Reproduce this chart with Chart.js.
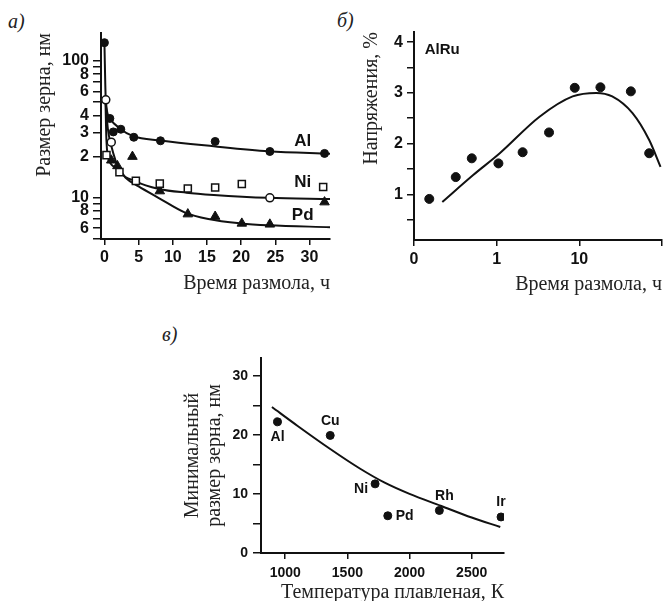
<!DOCTYPE html>
<html>
<head>
<meta charset="utf-8">
<script src="https://cdn.jsdelivr.net/npm/chart.js@4.4.1/dist/chart.umd.min.js"></script>
<style>
  html, body { margin: 0; padding: 0; background: #fff; overflow: hidden; width: 663px; height: 601px; }
  body { position: relative; }
  canvas { position: absolute; }
  .panel { position: absolute; font: italic 20px "Liberation Serif", "Times New Roman", serif; color: #222; }
</style>
</head>
<body>
<div class="panel" style="left:8px;top:10px">а)</div>
<div class="panel" style="left:337px;top:9px">б)</div>
<div class="panel" style="left:162px;top:323px">в)</div>
<canvas id="chartA" width="340" height="300" style="left:0;top:0"></canvas>
<canvas id="chartB" width="340" height="300" style="left:340px;top:0"></canvas>
<canvas id="chartC" width="370" height="295" style="left:150px;top:310px"></canvas>
<script>
// а) grain size (nm) vs milling time (h), log y
const alTime = [0, 0.8, 1.3, 2.4, 4.3, 8.2, 16.2, 24.2, 32.2];
const alSize = [136, 38, 30.3, 31.7, 27.7, 26.1, 25.8, 21.8, 21.1];
const niTime = [0.2, 1.0, 0.3, 2.2, 4.6, 8.1, 12.2, 16.2, 20.1, 24.2, 32.0];
const niSize = [52, 25.5, 20.5, 15.4, 13.3, 12.7, 11.7, 11.9, 12.6, 10.0, 12.0];
const pdTime = [1.0, 1.9, 4.1, 8.1, 12.2, 16.2, 20.1, 24.2, 32.2];
const pdSize = [18.8, 17.1, 20.0, 11.2, 7.6, 7.3, 6.5, 6.4, 9.3];

// fitted curves
const alFitTime = [0, 0.2, 0.8, 2.3, 4.2, 8.2, 16, 24, 33];
const alFitSize = [136, 52, 38, 32, 28.2, 26.2, 23.8, 21.9, 21.0];
const niFitTime = [0.15, 0.5, 1.0, 2.2, 4.6, 8, 12, 16, 24, 33];
const niFitSize = [52, 32, 24, 16, 13.2, 11.6, 10.9, 10.5, 10.0, 9.8];
const pdFitTime = [0.15, 0.3, 0.7, 2.1, 3.1, 5, 7.9, 11.8, 15.2, 20, 24, 33];
const pdFitSize = [52, 26, 18.6, 16.3, 14.0, 12.1, 10.0, 7.8, 7.0, 6.5, 6.3, 6.1];

const sizeTicks = [5, 6, 7, 8, 9, 10, 20, 30, 40, 50, 60, 70, 80, 90, 100];
const sizeTickText = ['', '6', '', '8', '', '10', '2', '3', '4', '', '6', '', '8', '', '100'];
const timeTicks = [0, 5, 10, 15, 20, 25, 30];
const curveNames = ['Al', 'Ni', 'Pd'];
const curveNameTime = [29, 29, 29];
const curveNameSize = [25.7, 12.9, 7.5];

// б) AlRu strain (%) vs milling time (h), log x
const ruTime = [0.153, 0.32, 0.50, 1.05, 2.06, 4.3, 8.8, 18, 42, 70];
const ruStrain = [0.91, 1.34, 1.71, 1.61, 1.83, 2.22, 3.10, 3.11, 3.03, 1.81];
const ruFitTime = [0.22, 0.52, 1.09, 3.3, 8.3, 16, 25, 44, 70, 96];
const ruFitStrain = [0.85, 1.38, 1.81, 2.53, 2.93, 3.0, 2.93, 2.6, 2.07, 1.54];
const ruTimeTicks = [0.1, 1, 10, 100];
const ruTimeText = ['0', '1', '10', ''];
const strainTicks = [0.5, 1, 1.5, 2, 2.5, 3, 3.5, 4];

// в) minimal grain size vs melting temperature
const metals = ['Al', 'Cu', 'Ni', 'Pd', 'Rh', 'Ir'];
const meltTemp = [938, 1362, 1723, 1825, 2240, 2736];
const minSize = [22.2, 19.9, 11.7, 6.3, 7.2, 6.1];
const fitTemp = [893, 1100, 1362, 1600, 1800, 2000, 2250, 2500, 2730];
const fitMinSize = [24.7, 21.5, 17.6, 14.3, 11.9, 10.0, 8.0, 6.0, 4.4];
const tempTicks = [1000, 1500, 2000, 2500];
const minSizeTicks = [0, 5, 10, 15, 20, 25, 30];

const INK = '#111';
const SANS = '"Liberation Sans", Arial, sans-serif';
const SERIF = '"Liberation Serif", "Times New Roman", serif';
Chart.defaults.font.family = SANS;
Chart.defaults.font.weight = 'bold';
Chart.defaults.color = INK;

const pts = (xs, ys) => xs.map((x, i) => ({ x: x, y: ys[i] }));
const setTicks = list => scale => { scale.ticks = list.map(v => ({ value: v })); };

// text next to marks, placed through the scales
const textLabels = {
    id: 'textLabels',
    afterDatasetsDraw(chart, args, opts) {
        const { ctx, scales: { x, y } } = chart;
        ctx.save();
        ctx.font = opts.font;
        ctx.fillStyle = INK;
        ctx.textBaseline = 'middle';
        opts.items.forEach(it => {
            ctx.textAlign = it.align || 'center';
            ctx.fillText(it.text, x.getPixelForValue(it.x) + (it.dx || 0), y.getPixelForValue(it.y) + (it.dy || 0));
        });
        ctx.restore();
    }
};

function axis(tickLen, extra) {
    return Object.assign({
        grid: { display: true, drawOnChartArea: false, drawTicks: true, tickLength: tickLen, color: INK, lineWidth: 1.5 },
        border: { display: true, color: INK, width: 2 }
    }, extra);
}
const titleFont = { family: SERIF, size: 20, weight: 'normal', lineHeight: 1.2 };
const fitLine = { showLine: true, pointRadius: 0, borderColor: INK, borderWidth: 2, cubicInterpolationMode: 'monotone', fill: false };
const baseOptions = { responsive: false, animation: false, events: [] };

// Chart а)
new Chart(document.getElementById('chartA'), {
    type: 'line',
    data: {
        datasets: [
            { data: pts(alTime, alSize), showLine: false, pointStyle: 'circle', pointRadius: 4, backgroundColor: INK, borderColor: INK },
            { data: pts(niTime, niSize), showLine: false,
              pointStyle: ['circle', 'circle', 'rect', 'rect', 'rect', 'rect', 'rect', 'rect', 'rect', 'circle', 'rect'],
              pointRadius: [4, 4, 5, 5, 5, 5, 5, 5, 5, 4, 5],
              backgroundColor: '#fff', borderColor: INK, pointBorderWidth: 1.5 },
            { data: pts(pdTime, pdSize), showLine: false, pointStyle: 'triangle', pointRadius: 5.5, backgroundColor: INK, borderColor: INK },
            Object.assign({ data: pts(alFitTime, alFitSize) }, fitLine),
            Object.assign({ data: pts(niFitTime, niFitSize) }, fitLine),
            Object.assign({ data: pts(pdFitTime, pdFitSize) }, fitLine)
        ]
    },
    options: Object.assign({}, baseOptions, {
        layout: { padding: { left: 0, top: 33, right: 10, bottom: 0 } },
        scales: {
            x: axis(6, {
                type: 'linear', min: -0.5, max: 33,
                afterBuildTicks: setTicks(timeTicks),
                afterFit: s => { s.height = 61; },
                ticks: { font: { size: 16 }, padding: 3, maxRotation: 0, autoSkip: false },
                title: { display: true, text: 'Время размола, ч', align: 'end', font: titleFont, color: '#222', padding: { top: 0, bottom: 4 } }
            }),
            y: axis(8, {
                type: 'logarithmic', min: 5, max: 160,
                afterBuildTicks: setTicks(sizeTicks),
                afterFit: s => { s.width = 101; },
                ticks: { font: { size: 16 }, padding: 4, autoSkip: false, callback: (v, i) => sizeTickText[i] },
                title: { display: true, text: 'Размер зерна, нм', align: 'end', font: titleFont, color: '#222', padding: { top: 33, bottom: 0 } }
            })
        },
        plugins: {
            legend: { display: false }, tooltip: { enabled: false },
            textLabels: {
                font: 'bold 17px ' + SANS,
                items: curveNames.map((n, i) => ({ text: n, x: curveNameTime[i], y: curveNameSize[i] }))
            }
        }
    }),
    plugins: [textLabels]
});

// Chart б)
new Chart(document.getElementById('chartB'), {
    type: 'line',
    data: {
        datasets: [
            { data: pts(ruTime, ruStrain), showLine: false, pointStyle: 'circle', pointRadius: 4.5, backgroundColor: INK, borderColor: INK },
            Object.assign({ data: pts(ruFitTime, ruFitStrain) }, fitLine)
        ]
    },
    options: Object.assign({}, baseOptions, {
        layout: { padding: { left: 0, top: 32, right: 18, bottom: 0 } },
        scales: {
            x: axis(6, {
                type: 'logarithmic', min: 0.1, max: 100,
                afterBuildTicks: setTicks(ruTimeTicks),
                afterFit: s => { s.height = 60; },
                ticks: { font: { size: 16 }, padding: 4, maxRotation: 0, autoSkip: false, callback: (v, i) => ruTimeText[i] },
                title: { display: true, text: 'Время размола, ч', align: 'end', font: titleFont, color: '#222', padding: { top: 0, bottom: 3 } }
            }),
            y: axis(7, {
                type: 'linear', min: 0.1, max: 4.2,
                afterBuildTicks: setTicks(strainTicks),
                afterFit: s => { s.width = 74; },
                ticks: { font: { size: 16 }, padding: 4, autoSkip: false, callback: v => (v % 1 === 0 ? String(v) : '') },
                title: { display: true, text: 'Напряжения, %', align: 'end', font: titleFont, color: '#222', padding: { top: 20, bottom: 0 } }
            })
        },
        plugins: {
            legend: { display: false }, tooltip: { enabled: false },
            textLabels: { font: 'bold 15px ' + SANS, items: [{ text: 'AlRu', x: 0.135, y: 3.85, align: 'left' }] }
        }
    }),
    plugins: [textLabels]
});

// Chart в)
const metalOffsets = [
    { dx: 0, dy: 15 }, { dx: 0, dy: -14 }, { dx: -7, dy: 5, align: 'right' },
    { dx: 8, dy: 0, align: 'left' }, { dx: 5, dy: -14 }, { dx: 0, dy: -15 }
];
new Chart(document.getElementById('chartC'), {
    type: 'line',
    data: {
        datasets: [
            { data: pts(meltTemp, minSize), showLine: false, pointStyle: 'circle', pointRadius: 4, backgroundColor: INK, borderColor: INK },
            Object.assign({ data: pts(fitTemp, fitMinSize) }, fitLine)
        ]
    },
    options: Object.assign({}, baseOptions, {
        layout: { padding: { left: 0, top: 48, right: 16, bottom: 0 } },
        scales: {
            x: axis(6, {
                type: 'linear', min: 805, max: 2760,
                afterBuildTicks: setTicks(tempTicks),
                afterFit: s => { s.height = 52; },
                ticks: { font: { size: 14 }, padding: 6, maxRotation: 0, autoSkip: false, callback: v => String(v) },
                title: { display: true, text: 'Температура плавленая, К', align: 'end', font: titleFont, color: '#222', padding: { top: 0, bottom: 0 } }
            }),
            y: axis(8, {
                type: 'linear', min: 0, max: 33,
                afterBuildTicks: setTicks(minSizeTicks),
                afterFit: s => { s.width = 111; },
                ticks: { font: { size: 14 }, padding: 5, autoSkip: false, callback: v => (v % 10 === 0 ? String(v) : '') },
                title: { display: true, text: ['Минимальный', 'размер зерна, нм'], align: 'center',
                         font: { family: SERIF, size: 20, weight: 'normal', lineHeight: 1.1 }, color: '#222', padding: { top: 32, bottom: 0 } }
            })
        },
        plugins: {
            legend: { display: false }, tooltip: { enabled: false },
            textLabels: {
                font: 'bold 14px ' + SANS,
                items: metals.map((m, i) => Object.assign({ text: m, x: meltTemp[i], y: minSize[i] }, metalOffsets[i]))
            }
        }
    }),
    plugins: [textLabels]
});
</script>
</body>
</html>
